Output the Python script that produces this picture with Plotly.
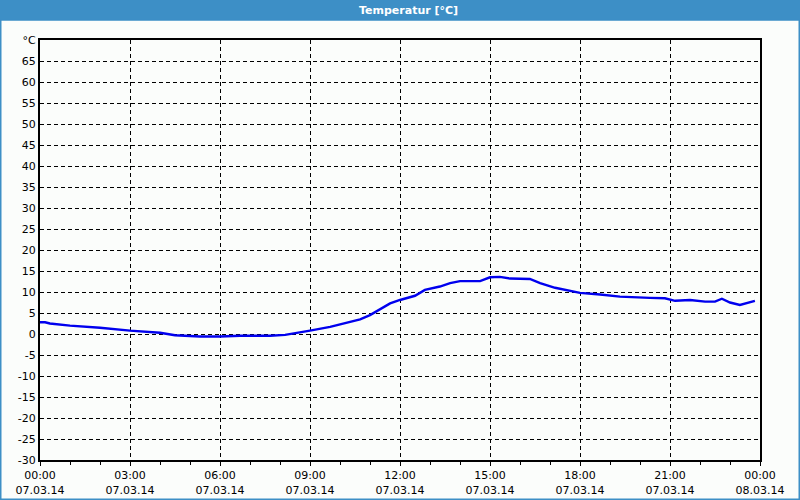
import plotly.graph_objects as go
from datetime import datetime, timedelta

# Data (hours after 07.03.14 00:00, temperature in °C)
hours = [0, 0.17, 0.33, 1.0, 2.0, 3.0, 4.0, 4.5, 5.33, 6.0, 6.67, 7.67, 8.17, 8.67, 9.0,
         9.67, 10.33, 10.67, 11.0, 11.33, 11.67, 12.0, 12.5, 12.83, 13.33, 13.67, 14.0,
         14.67, 15.0, 15.33, 15.67, 16.33, 16.67, 17.17, 17.67, 18.0, 18.67, 19.33,
         20.33, 20.83, 21.17, 21.67, 22.17, 22.5, 22.73, 23.0, 23.33, 23.67, 23.83]
temps = [2.8, 2.8, 2.5, 2.0, 1.5, 0.8, 0.3, -0.3, -0.6, -0.6, -0.4, -0.4, -0.2, 0.5, 0.8,
         1.7, 2.9, 3.5, 4.5, 5.8, 7.3, 8.1, 9.1, 10.5, 11.3, 12.1, 12.6,
         12.6, 13.5, 13.6, 13.2, 13.1, 12.1, 11.0, 10.3, 9.8, 9.4, 8.9,
         8.6, 8.5, 7.9, 8.1, 7.7, 7.7, 8.4, 7.5, 6.9, 7.5, 7.9]

tick_hours = [0, 3, 6, 9, 12, 15, 18, 21, 24]
tick_labels = ["00:00<br>07.03.14", "03:00<br>07.03.14", "06:00<br>07.03.14",
               "09:00<br>07.03.14", "12:00<br>07.03.14", "15:00<br>07.03.14",
               "18:00<br>07.03.14", "21:00<br>07.03.14", "00:00<br>08.03.14"]
y_ticks = list(range(-30, 75, 5))
y_labels = [str(v) for v in y_ticks[:-1]] + ["°C"]

start = datetime(2014, 3, 7)
xs = [start + timedelta(hours=h) for h in hours]
xticks = [start + timedelta(hours=h) for h in tick_hours]

W, H = 800, 500
ML, MR, MT, MB = 40, 40, 40, 40
PW, PH = W - ML - MR, H - MT - MB

def px_x(p):
    return (p - ML) / PW

def px_y(p):
    return 1 - (p - MT) / PH

fig = go.Figure()
fig.add_trace(go.Scatter(x=xs, y=temps, mode="lines",
                         line=dict(color="#0000ee", width=2.4), hoverinfo="skip"))

bg = "#fbfdfb"
font = dict(family="DejaVu Sans, Verdana, sans-serif", size=11, color="#000000")

fig.update_layout(
    width=W, height=H,
    margin=dict(l=ML, r=MR, t=MT, b=MB, autoexpand=False),
    paper_bgcolor=bg, plot_bgcolor=bg,
    showlegend=False,
    font=font,
    xaxis=dict(
        type="date", automargin=False,
        range=[start, start + timedelta(hours=24)],
        tickvals=xticks, ticktext=tick_labels,
        showgrid=True, gridcolor="#000000", griddash="4px,3px", gridwidth=1,
        showline=True, linecolor="#000000", linewidth=2, mirror=True,
        ticks="outside", ticklen=4, tickcolor="#000000",
        minor=dict(dtick=3600000, ticks="outside", ticklen=3, tickcolor="#000000", showgrid=False),
        zeroline=False,
    ),
    yaxis=dict(
        range=[-30, 70], automargin=False,
        tickvals=y_ticks, ticktext=y_labels,
        showgrid=True, gridcolor="#000000", griddash="4px,3px", gridwidth=1,
        showline=True, linecolor="#000000", linewidth=2, mirror=True,
        ticks="", zeroline=False,
    ),
)

# Title bar
fig.add_shape(type="rect", xref="paper", yref="paper",
              x0=px_x(0), x1=px_x(W), y0=px_y(20), y1=px_y(0),
              fillcolor="#3d8fc6", line=dict(width=0), layer="below")
fig.add_annotation(xref="paper", yref="paper", x=px_x(408), y=px_y(10),
                   text="<b>Temperatur [°C]</b>", showarrow=False,
                   font=dict(family="DejaVu Sans, Verdana, sans-serif", size=11, color="#ffffff"),
                   xanchor="center", yanchor="middle")
# Window frame
fig.add_shape(type="rect", xref="paper", yref="paper",
              x0=px_x(0.75), x1=px_x(W - 0.75), y0=px_y(H - 0.75), y1=px_y(20),
              fillcolor="rgba(0,0,0,0)", line=dict(color="#3d8fc6", width=1.5))

fig.write_html("out.html")
